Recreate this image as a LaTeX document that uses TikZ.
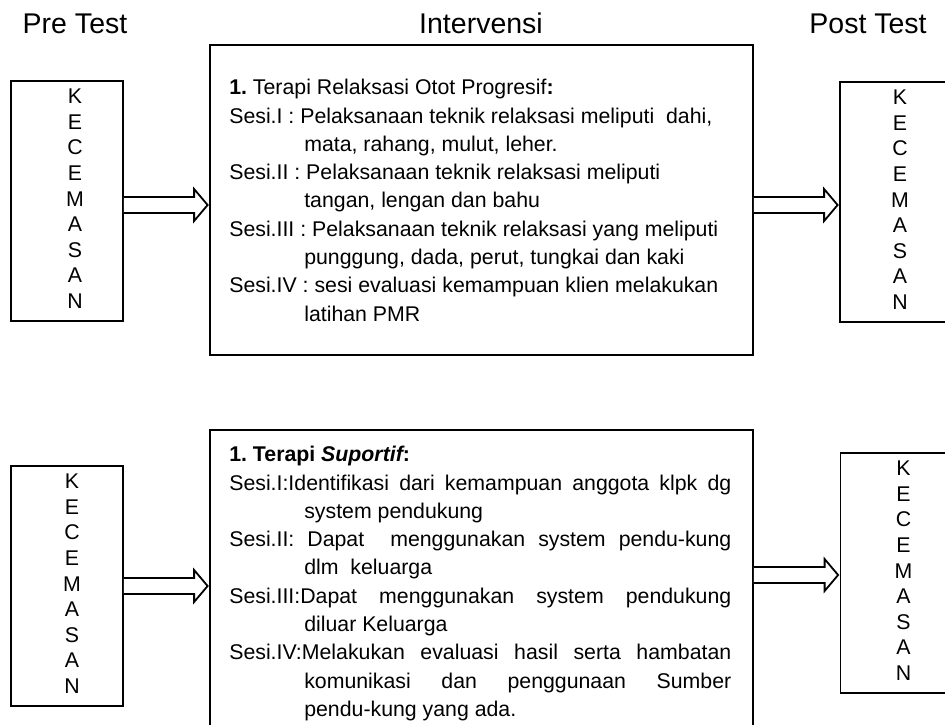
\documentclass[tikz,border=0pt]{standalone}
\usepackage{fontspec}
\setmainfont{Liberation Sans}
\usetikzlibrary{calc}

\tikzset{
  boxline/.style={draw, line width=1.8pt},
  anxbox/.style={boxline, minimum width=112pt, minimum height=240pt, inner sep=0pt,
    font=\fontsize{21.3}{25.6}\selectfont},
  heading/.style={anchor=base, font=\fontsize{28.5}{33}\selectfont},
  sesi/.style={anchor=north west, inner sep=0pt, text width=502pt, align=justify,
    font=\fontsize{21.3}{28.3}\selectfont\frenchspacing},
  hollow/.style={draw, line width=1.8pt, fill=white},
}

% vertical KECEMASAN, pushed right by #1/2
\newcommand\anxletters[1]{\begin{tabular}{@{\hspace{#1}}c@{}}K\\E\\C\\E\\M\\A\\S\\A\\N\end{tabular}}

% one session with hanging lines
\newcommand\sesiitem{\noindent\hangindent=75pt\hangafter=1 }

% outlined block arrow from #1 to #2 at height #3
\newcommand\hollowarrow[3]{%
  \draw[hollow] let \p1=(#1.east), \p2=(#2.west) in
    (\x1,{-#3pt+8pt}) -- (\x2-15pt,{-#3pt+8pt}) -- (\x2-15pt,{-#3pt+16pt})
    -- (\x2-1.5pt,{-#3pt}) -- (\x2-15pt,{-#3pt-16pt}) -- (\x2-15pt,{-#3pt-8pt})
    -- (\x1,{-#3pt-8pt});
}

\begin{document}
\begin{tikzpicture}[x=1pt,y=-1pt]
  \useasboundingbox (0,0) rectangle (945,725);

  \node[heading] (pre) at (75,34) {Pre Test};
  \node[heading] (int) at (481,34) {Intervensi};
  \node[heading] (post) at (868,34) {Post Test};

  % first row
  \node[anxbox] (pre1) at (67,201) {\anxletters{16pt}};
  \node[boxline, minimum width=543pt, minimum height=310pt] (int1) at (481.5,200) {};
  \node[anxbox] (post1) at (896,202) {\anxletters{8pt}};
  \node[sesi] (txt1) at ([shift={(20pt,-35pt)}]int1.north west) {%
    \noindent{\bfseries 1.} Terapi Relaksasi Otot Progresif{\bfseries :}\par
    \sesiitem Sesi.I : Pelaksanaan teknik relaksasi meliputi\ \ dahi,\newline
      mata, rahang, mulut, leher.\par
    \sesiitem Sesi.II : Pelaksanaan teknik relaksasi meliputi\newline
      tangan, lengan dan bahu\par
    \sesiitem Sesi.III : Pelaksanaan teknik relaksasi yang meliputi\newline
      punggung, dada, perut, tungkai dan kaki\par
    \sesiitem Sesi.IV : sesi evaluasi kemampuan klien melakukan\newline
      latihan PMR\par};
  \hollowarrow{pre1}{int1}{205}
  \hollowarrow{int1}{post1}{205}

  % second row
  \node[anxbox] (pre2) at (67,586) {\anxletters{10pt}};
  \node[boxline, minimum width=543pt, minimum height=340pt] (int2) at (481.5,600) {};
  \node[anxbox] (post2) at (896.5,573) {\anxletters{14pt}};
  \node[sesi] (txt2) at ([shift={(20pt,-17pt)}]int2.north west) {%
    \tolerance=10000 \hbadness=10000
    \noindent{\bfseries 1. Terapi {\itshape Suportif}:}\par
    \sesiitem Sesi.I:Identifikasi dari kemampuan anggota klpk dg\linebreak
      system pendukung\par
    \sesiitem Sesi.II: Dapat\ \ menggunakan system pendu-kung\linebreak
      dlm\ \ keluarga\par
    \sesiitem Sesi.III:Dapat menggunakan system pendukung\linebreak
      diluar Keluarga\par
    \sesiitem Sesi.IV:Melakukan evaluasi hasil serta hambatan\linebreak
      komunikasi dan penggunaan Sumber\linebreak
      pendu-kung yang ada.\par};
  \hollowarrow{pre2}{int2}{586}
  \hollowarrow{int2}{post2}{575}
\end{tikzpicture}
\end{document}
